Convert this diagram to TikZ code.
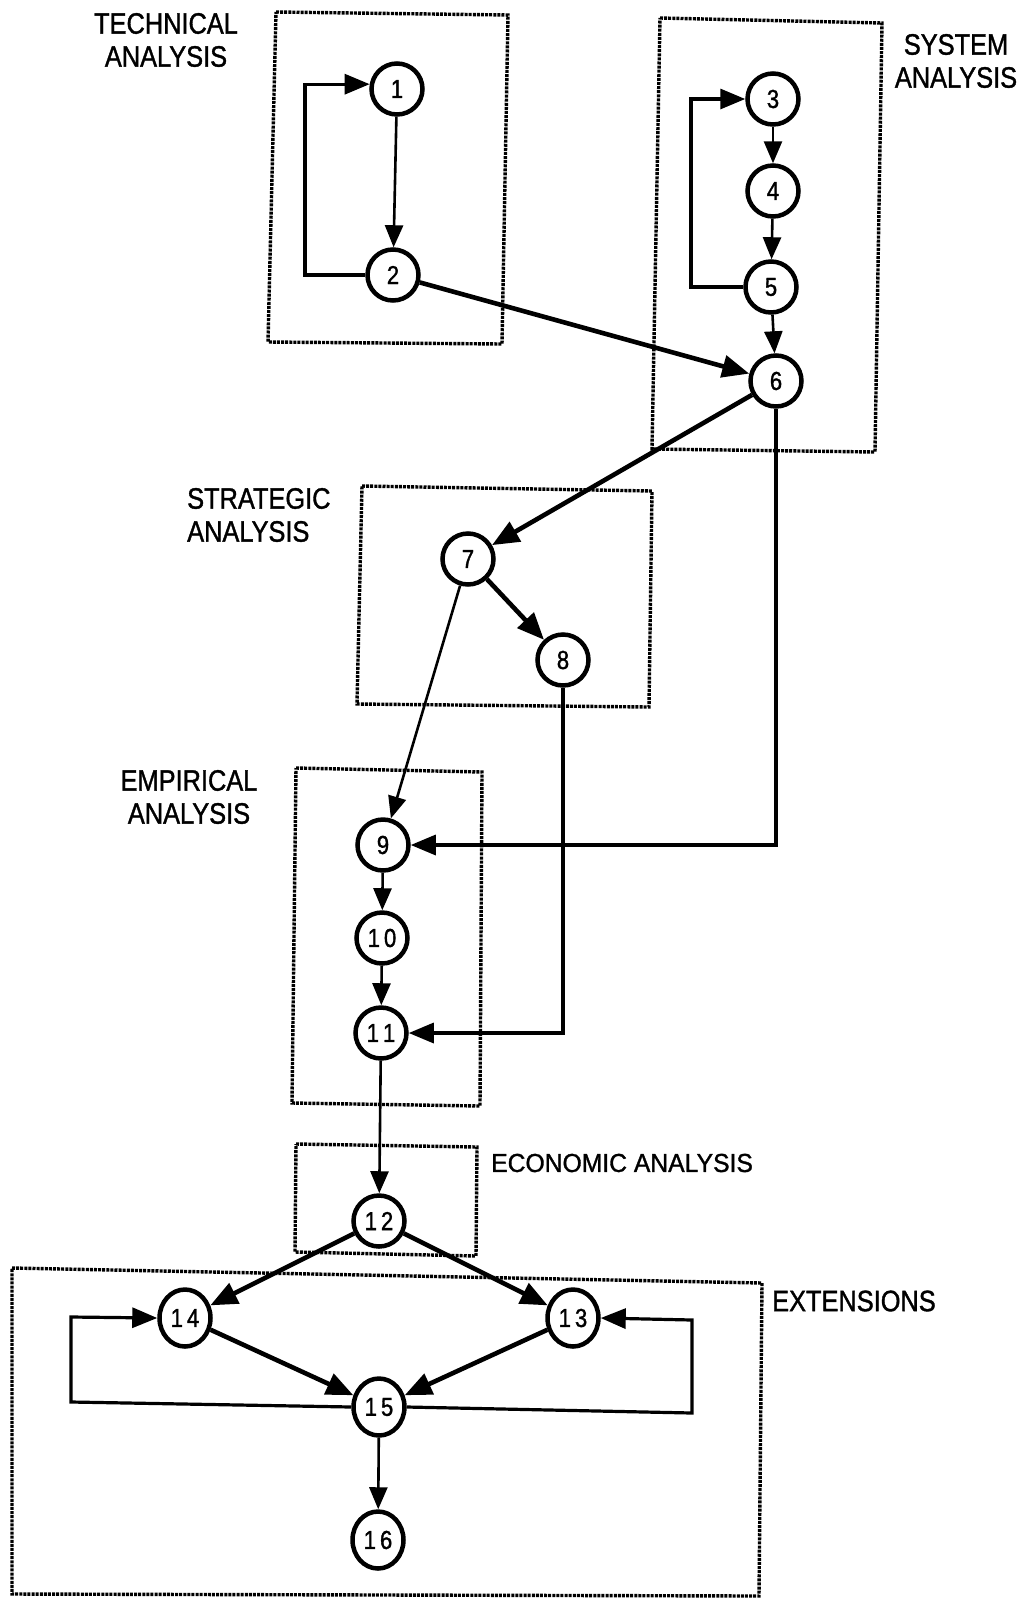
\documentclass[tikz,border=0pt]{standalone}
\usepackage{fontspec}
\newfontfamily\labfont[FakeStretch=0.86,FakeBold=1.2]{Liberation Sans}
\newfontfamily\econfont[FakeStretch=0.95,FakeBold=1.2]{Liberation Sans}
\newfontfamily\numfont[FakeStretch=0.85,FakeBold=1.2]{Liberation Sans}
\usetikzlibrary{arrows.meta,shapes.geometric}
\begin{document}
\begin{tikzpicture}[x=1pt,y=-1pt,
  stage/.style={circle, draw, fill=white, line width=4.5pt, minimum size=51pt, inner sep=0pt,
    font=\numfont\fontsize{26}{26}\selectfont},
  tallstage/.style={ellipse, draw, fill=white, line width=4.5pt, minimum width=51pt, minimum height=57pt, inner sep=0pt,
    font=\numfont\fontsize{26}{26}\selectfont},
  group/.style={draw, line width=3.4pt, dash pattern=on 3pt off 1.1pt},
  lab/.style={font=\labfont\fontsize{29.5}{33}\selectfont, align=center, inner sep=0pt},
  arrthin/.style={line width=2.6pt, -{Triangle[length=22pt,width=18pt]}},
  arrthick/.style={line width=4.6pt, -{Triangle[length=27pt,width=22pt]}},
  looparr/.style={line width=3.2pt, -{Triangle[length=25pt,width=20pt]}},
]
\useasboundingbox (0,0) rectangle (1024,1599);

% group frames
\draw[group] (276,12) -- (508,15) -- (502,344) -- (268,342) -- cycle;
\draw[group] (660,18) -- (882,23) -- (875,452) -- (652,449) -- cycle;
\draw[group] (362,486) -- (652,491) -- (649,707) -- (357,704) -- cycle;
\draw[group] (296,768) -- (482,772) -- (480,1106) -- (292,1103) -- cycle;
\draw[group] (296,1144) -- (477,1147) -- (476,1256) -- (295,1252) -- cycle;
\draw[group] (12,1268) -- (762,1283) -- (759,1596) -- (12,1594) -- cycle;

% labels
\node[lab] (ltech) at (166,40) {TECHNICAL\\ANALYSIS};
\node[lab] (lsys) at (956,61) {SYSTEM\\ANALYSIS};
\node[lab, align=left, anchor=west] (lstrat) at (187,515) {STRATEGIC\\ANALYSIS};
\node[lab] (lemp) at (189,797) {EMPIRICAL\\ANALYSIS};
\node[lab, font=\econfont\fontsize{26}{30}\selectfont, anchor=west] (lecon) at (491,1163) {ECONOMIC ANALYSIS};
\node[lab, anchor=west] (lext) at (772,1301) {EXTENSIONS};

% stages
\node[stage] (n1) at (397,89) {1};
\node[stage] (n2) at (393,275) {2};
\node[stage] (n3) at (773,99) {3};
\node[stage] (n4) at (773,191) {4};
\node[stage] (n5) at (771,287) {5};
\node[stage] (n6) at (776,381) {6};
\node[stage] (n7) at (468,559) {7};
\node[stage] (n8) at (563,660) {8};
\node[stage] (n9) at (383,845) {9};
\node[stage] (n10) at (382,938) {1\kern4pt0};
\node[stage] (n11) at (381,1033) {1\kern4pt1};
\node[stage] (n12) at (379,1221) {1\kern4pt2};
\node[tallstage] (n14) at (185,1318) {1\kern4pt4};
\node[tallstage] (n13) at (573,1318) {1\kern4pt3};
\node[tallstage] (n15) at (379,1407) {1\kern4pt5};
\node[tallstage] (n16) at (378,1540) {1\kern4pt6};

% loop corners
\coordinate (c21) at (305,275);
\coordinate (c53) at (691,287);
\coordinate (c14a) at (71,1402);
\coordinate (c14b) at (71,1317);
\coordinate (c13a) at (692,1413);
\coordinate (c13b) at (692,1320);

% connectors
\draw[arrthin] (n1) -- (n2);
\draw[looparr] (n2.west) -- (c21) |- (n1.170);
\draw[arrthin] (n3) -- (n4);
\draw[arrthin] (n4) -- (n5);
\draw[arrthin] (n5) -- (n6);
\draw[looparr] (n5.west) -- (c53) |- (n3.west);
\draw[arrthick] (n2) -- (n6);
\draw[arrthick] (n6) -- (n7);
\draw[arrthick] (n7) -- (n8);
\draw[arrthin] (n7) -- (n9);
\draw[looparr] (n6.south) |- (n9.east);
\draw[looparr] (n8.south) |- (n11.east);
\draw[arrthin] (n9) -- (n10);
\draw[arrthin] (n10) -- (n11);
\draw[arrthin] (n11) -- (n12);
\draw[arrthick] (n12) -- (n14);
\draw[arrthick] (n12) -- (n13);
\draw[arrthick] (n14) -- (n15);
\draw[arrthick] (n13) -- (n15);
\draw[looparr] (n15.west) -- (c14a) -- (c14b) -- (n14.west);
\draw[looparr] (n15.east) -- (c13a) -- (c13b) -- (n13.east);
\draw[arrthin] (n15) -- (n16);
\end{tikzpicture}
\end{document}
